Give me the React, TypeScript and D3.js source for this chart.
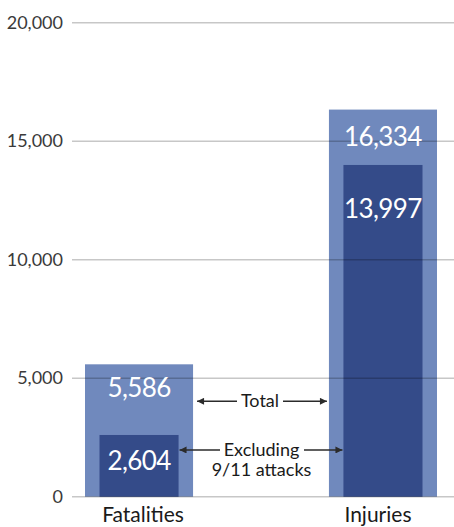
import React from "react";
import * as d3 from "d3";

const categories = ["Fatalities", "Injuries"];
const totalValues = [5586, 16334];
const excludingValues = [2604, 13997];
const yTicks = [0, 5000, 10000, 15000, 20000];

const W = 454;
const H = 527;
const FONT = "Lato, 'Open Sans', sans-serif";

export default function App() {
  const y = d3.scaleLinear().domain([0, 20000]).range([496.7, 22.7]);
  const x = d3
    .scaleBand<string>()
    .domain(categories)
    .range([85, 437])
    .paddingInner(0.557)
    .paddingOuter(0);
  const bw = x.bandwidth();
  const inset = 14.5;
  const fmt = d3.format(",");
  const innerLabelOffset = [35, 53];
  const outerLabelOffset = [33, 36];
  const catShift = [4, -5];

  const xF = x("Fatalities")!;
  const xI = x("Injuries")!;
  const arrowColor = "#2b2b2b";
  const totalY = y(totalValues[0]) + 37;
  const exclY = y(excludingValues[0]) + 15;

  return (
    <svg
      width={W}
      height={H}
      style={{ position: "absolute", left: 0, top: 0, display: "block" }}
      fontFamily={FONT}
    >
      <defs>
        <marker id="ah" viewBox="0 0 10 10" refX="10" refY="5" markerWidth="9" markerHeight="7" markerUnits="userSpaceOnUse" orient="auto">
          <path d="M0,0 L10,5 L0,10 z" fill={arrowColor} />
        </marker>
      </defs>
      <rect width={W} height={H} fill="#fff" />
      {categories.map((c, i) => (
        <g key={c}>
          <rect
            x={x(c)!}
            y={y(totalValues[i])}
            width={bw}
            height={y(0) - y(totalValues[i])}
            fill="#7089bd"
          />
          <rect
            x={x(c)! + inset}
            y={y(excludingValues[i])}
            width={bw - 2 * inset}
            height={y(0) - y(excludingValues[i])}
            fill="#344b89"
          />
        </g>
      ))}
      {yTicks.map((t) => (
        <g key={t}>
          <line x1={72} x2={W} y1={y(t)} y2={y(t)} stroke="#000" strokeOpacity={0.22} strokeWidth={1.5} />
          <text x={63} y={y(t) + 6} textAnchor="end" fontSize={18} fill="#3a3a3a">
            {fmt(t)}
          </text>
        </g>
      ))}
      {categories.map((c, i) => (
        <g key={c + "l"}>
          <text
            x={x(c)! + bw / 2}
            y={y(totalValues[i]) + outerLabelOffset[i]}
            textAnchor="middle"
            fontSize={26}
            letterSpacing={-0.6}
            fill="#fff"
          >
            {fmt(totalValues[i])}
          </text>
          <text
            x={x(c)! + bw / 2}
            y={y(excludingValues[i]) + innerLabelOffset[i]}
            textAnchor="middle"
            fontSize={26}
            letterSpacing={-0.6}
            fill="#fff"
          >
            {fmt(excludingValues[i])}
          </text>
          <text x={x(c)! + bw / 2 + catShift[i]} y={522} textAnchor="middle" fontSize={21} fill="#1a1a1a">
            {c}
          </text>
        </g>
      ))}
      {/* Total annotation */}
      <line x1={237} x2={xF + bw + 4} y1={totalY} y2={totalY} stroke={arrowColor} strokeWidth={1.5} markerEnd="url(#ah)" />
      <line x1={283} x2={xI - 2} y1={totalY} y2={totalY} stroke={arrowColor} strokeWidth={1.5} markerEnd="url(#ah)" />
      <text x={260} y={totalY + 6} textAnchor="middle" fontSize={18} fill="#1a1a1a">
        Total
      </text>
      {/* Excluding annotation */}
      <line x1={220} x2={xF + bw - inset + 1} y1={exclY} y2={exclY} stroke={arrowColor} strokeWidth={1.5} markerEnd="url(#ah)" />
      <line x1={304} x2={xI + inset - 1} y1={exclY} y2={exclY} stroke={arrowColor} strokeWidth={1.5} markerEnd="url(#ah)" />
      <text x={261.5} y={exclY + 6} textAnchor="middle" fontSize={18} fill="#1a1a1a">
        Excluding
      </text>
      <text x={261.5} y={exclY + 26} textAnchor="middle" fontSize={18} fill="#1a1a1a">
        9/11 attacks
      </text>
    </svg>
  );
}
